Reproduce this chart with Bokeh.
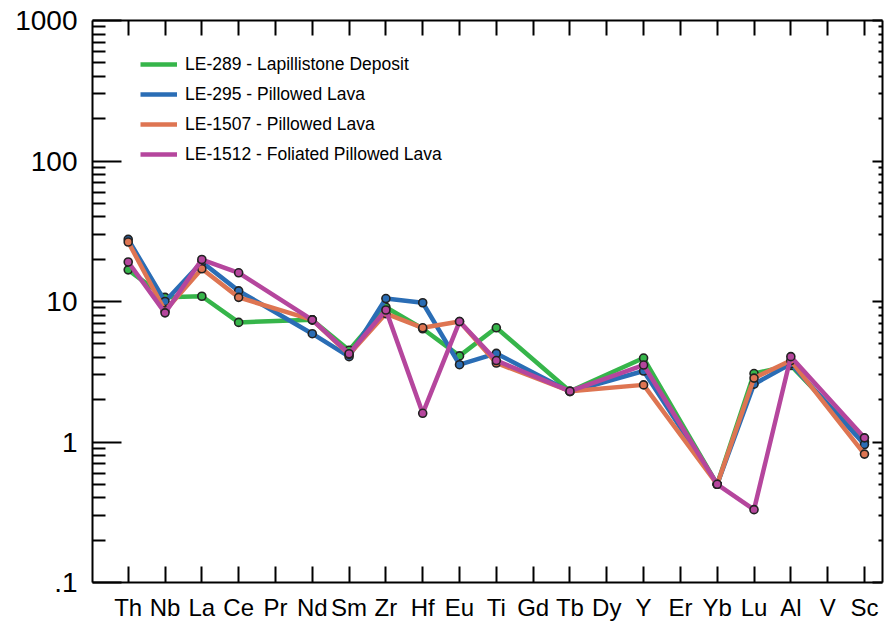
from bokeh.plotting import figure
from bokeh.models import (FixedTicker, LinearAxis, LogAxis, Legend, LegendItem,
                          CustomJSTickFormatter, Range1d, AllLabels,
                          CustomLabelingPolicy)
from bokeh.embed import file_html
from bokeh.resources import INLINE

categories = ["Th", "Nb", "La", "Ce", "Pr", "Nd", "Sm", "Zr", "Hf", "Eu", "Ti",
              "Gd", "Tb", "Dy", "Y", "Er", "Yb", "Lu", "Al", "V", "Sc"]
elements = ["Th", "Nb", "La", "Ce", "Nd", "Sm", "Zr", "Hf", "Eu", "Ti", "Tb",
            "Y", "Yb", "Lu", "Al", "Sc"]

le289 = [16.8, 10.7, 10.9, 7.1, 7.4, 4.5, 9.1, 6.4, 4.1, 6.5, 2.3, 3.96, 0.5, 3.07, 3.5, 1.0]
le295 = [27.7, 10.0, 19.1, 11.9, 5.9, 4.05, 10.5, 9.8, 3.55, 4.27, 2.28, 3.2, 0.5, 2.58, 3.6, 0.96]
le1507 = [26.5, 8.6, 17.1, 10.7, 7.4, 4.2, 8.2, 6.5, 7.2, 3.65, 2.3, 2.55, 0.5, 2.85, 3.8, 0.82]
le1512 = [19.1, 8.3, 19.9, 16.0, 7.4, 4.25, 8.7, 1.6, 7.2, 3.8, 2.3, 3.53, 0.5, 0.33, 4.05, 1.07]

series_names = ["LE-289 - Lapillistone Deposit", "LE-295 - Pillowed Lava",
                "LE-1507 - Pillowed Lava", "LE-1512 - Foliated Pillowed Lava"]
series_values = [le289, le295, le1507, le1512]
colors = ["#36b54a", "#2a6db5", "#de7552", "#b5469d"]

y_major = [0.1, 1, 10, 100, 1000]
y_minor = [m * d for d in [0.1, 1, 10, 100] for m in range(2, 10)]

xs = [categories.index(e) for e in elements]
n = len(categories)

p = figure(width=887, height=626, y_axis_type="log", output_backend="svg",
           toolbar_location=None, x_range=Range1d(-0.97, n - 1 + 0.49),
           y_range=Range1d(0.1, 1000),
           min_border_left=92, min_border_right=0, min_border_top=20,
           min_border_bottom=44)
p.background_fill_color = "white"
p.border_fill_color = "white"
p.outline_line_color = None
p.xgrid.visible = False
p.ygrid.visible = False

FONT = "Liberation Sans"
hide_all = CustomLabelingPolicy(code="return new Set();")

# bottom axis
xa = p.xaxis[0]
xa.ticker = FixedTicker(ticks=list(range(n)))
xa.formatter = CustomJSTickFormatter(args=dict(names=categories),
                                     code="return names[Math.round(tick)] || '';")
xa.major_label_policy = AllLabels()
xa.major_tick_in = 16
xa.major_tick_out = 0
xa.minor_tick_line_color = None
xa.axis_line_width = 2
xa.major_tick_line_width = 2
xa.major_label_text_font = FONT
xa.major_label_text_font_size = "24px"
xa.major_label_text_color = "black"
xa.major_label_standoff = 11

# left axis
ya = p.yaxis[0]
ya.ticker = FixedTicker(ticks=y_major, minor_ticks=y_minor)
ya.formatter = CustomJSTickFormatter(
    code="if (tick < 0.5) return '.1'; return String(Math.round(tick));")
ya.major_label_policy = AllLabels()
ya.major_tick_in = 29
ya.major_tick_out = 0
ya.minor_tick_in = 13
ya.minor_tick_out = 0
ya.axis_line_width = 2
ya.major_tick_line_width = 2
ya.minor_tick_line_width = 2
ya.major_label_text_font = FONT
ya.major_label_text_font_size = "28px"
ya.major_label_text_color = "black"
ya.major_label_standoff = 15

# top axis (ticks only)
ta = LinearAxis(ticker=FixedTicker(ticks=list(range(n))),
                major_label_policy=hide_all,
                major_label_text_font_size="1px", major_tick_in=15,
                major_tick_out=0, minor_tick_line_color=None,
                axis_line_width=2, major_tick_line_width=2,
                major_label_standoff=0, axis_label_standoff=0)
p.add_layout(ta, "above")

# right axis (ticks only)
ra = LogAxis(ticker=FixedTicker(ticks=y_major, minor_ticks=y_minor),
             major_label_policy=hide_all,
             major_label_text_font_size="1px", major_tick_in=10,
             major_tick_out=0, minor_tick_in=4, minor_tick_out=0,
             axis_line_width=2, major_tick_line_width=2,
             minor_tick_line_width=2, major_label_standoff=0,
             axis_label_standoff=0)
p.add_layout(ra, "right")

items = []
for name, vals, col in zip(series_names, series_values, colors):
    r = p.line(xs, vals, line_color=col, line_width=4.5, line_join="round")
    p.scatter(xs, vals, size=8, marker="circle", fill_color=col,
              line_color="#222222", line_width=1.6)
    items.append(LegendItem(label=name, renderers=[r]))

legend = Legend(items=items, location=(48, 413), padding=0, margin=0, spacing=0,
                glyph_width=37, glyph_height=30, label_height=30,
                label_standoff=8, label_text_font=FONT,
                label_text_font_size="17.5px", label_text_color="black",
                border_line_color=None, background_fill_alpha=0)
p.add_layout(legend, "center")

open("out.html", "w").write(file_html(p, INLINE))
